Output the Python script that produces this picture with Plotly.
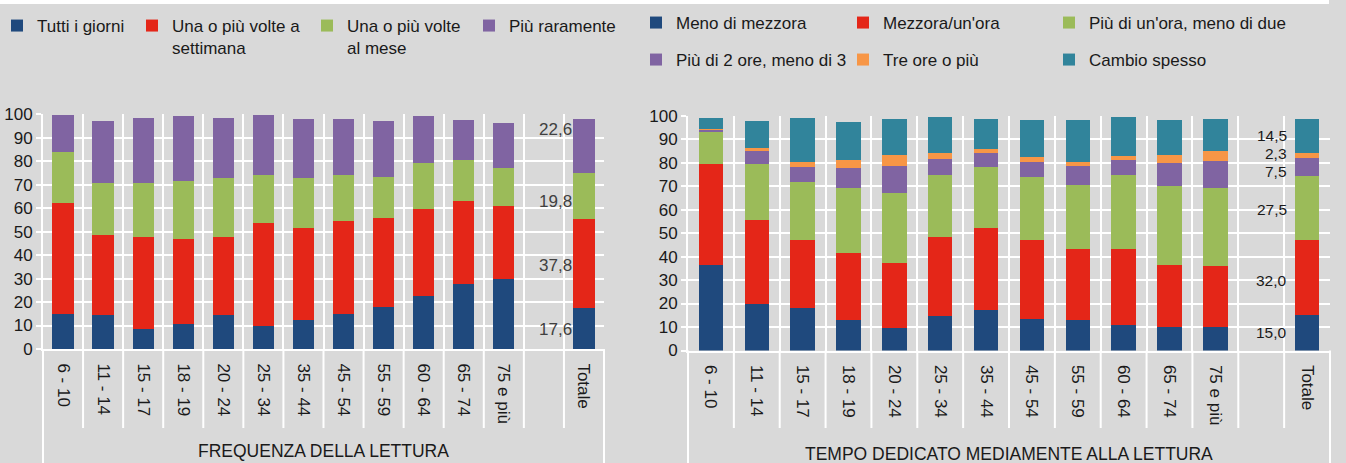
import plotly.graph_objects as go

# ---------------- data ----------------
categories = ["6 - 10", "11 - 14", "15 - 17", "18 - 19", "20 - 24", "25 - 34", "35 - 44",
              "45 - 54", "55 - 59", "60 - 64", "65 - 74", "75 e più", " ", "Totale"]

# Frequenza della lettura
tutti_i_giorni = [15.0, 14.6, 8.6, 10.7, 14.3, 10.0, 12.4, 15.0, 18.0, 22.7, 27.7, 29.7, None, 17.6]
settimana = [47.3, 34.0, 39.3, 36.2, 33.6, 43.7, 39.3, 39.6, 38.0, 36.9, 35.2, 31.3, None, 37.8]
al_mese = [21.8, 22.1, 22.8, 24.8, 24.8, 20.6, 21.3, 19.5, 17.4, 19.8, 17.5, 16.0, None, 19.8]
raramente = [15.5, 26.4, 27.7, 27.6, 25.6, 25.3, 24.9, 23.8, 23.7, 19.9, 17.2, 19.3, None, 22.6]

# Tempo dedicato mediamente alla lettura
meno_mezzora = [36.6, 19.6, 18.0, 12.9, 9.4, 14.6, 17.1, 13.5, 12.8, 10.9, 9.9, 9.8, None, 15.0]
mezzora_ora = [42.8, 36.1, 29.1, 28.8, 27.9, 33.8, 35.1, 33.6, 30.6, 32.5, 26.7, 26.1, None, 32.0]
ora_due = [13.9, 23.7, 24.7, 27.5, 29.8, 26.4, 26.0, 26.8, 27.2, 31.2, 33.3, 33.5, None, 27.5]
due_tre = [0.8, 5.4, 6.5, 8.4, 11.6, 6.9, 5.8, 6.5, 8.1, 6.5, 10.0, 11.3, None, 7.5]
tre_piu = [0.4, 1.3, 2.0, 3.5, 4.7, 2.3, 1.8, 1.9, 1.7, 1.6, 3.2, 4.4, None, 2.3]
cambio = [4.4, 11.5, 18.7, 16.3, 15.0, 15.4, 12.6, 15.9, 17.8, 16.9, 15.1, 13.5, None, 14.5]

left_names = ["Tutti i giorni", "Una o più volte a<br>settimana", "Una o più volte<br>al mese", "Più raramente"]
right_names = ["Meno di mezzora", "Mezzora/un'ora", "Più di un'ora, meno di due",
               "Più di 2 ore, meno di 3", "Tre ore o più", "Cambio spesso"]
y_ticks = [0, 10, 20, 30, 40, 50, 60, 70, 80, 90, 100]

# ---------------- style ----------------
W, H = 1346, 463
BG = "#D9D9D9"
FONT = "Liberation Sans, Arial, sans-serif"
TXT = "#1A1A1A"
C_BLUE, C_RED, C_GREEN, C_PURPLE, C_ORANGE, C_TEAL = (
    "#1F497D", "#E42618", "#9BBB59", "#8064A2", "#F79646", "#31849B")

def px_x(p):
    return p / W

def px_y(p):
    return (H - p) / H

# plot areas in pixels (left, right, top(100), bottom(0))
L_AREA = (43, 604, 114.3, 349.0)
R_AREA = (688, 1330, 115.7, 350.5)

LEG_DX = 19   # legend box left relative to reference marker left
LEG_DY = 17   # legend box top relative to reference text centre

fig = go.Figure()

left_series = [tutti_i_giorni, settimana, al_mese, raramente]
left_colors = [C_BLUE, C_RED, C_GREEN, C_PURPLE]
left_leg_pos = [(16, 25), (151, 25), (326, 25), (488, 25)]

right_series = [meno_mezzora, mezzora_ora, ora_due, due_tre, tre_piu, cambio]
right_colors = [C_BLUE, C_RED, C_GREEN, C_PURPLE, C_ORANGE, C_TEAL]
right_leg_pos = [(655, 22), (862, 22), (1068, 22), (655, 59), (862, 59), (1068, 59)]

legend_layouts = {}
k = 0
for group, names, colors, positions, xa, ya in (
        (left_series, left_names, left_colors, left_leg_pos, "x", "y"),
        (right_series, right_names, right_colors, right_leg_pos, "x2", "y2")):
    for vals, name, col, pos in zip(group, names, colors, positions):
        k += 1
        lname = "legend" if k == 1 else f"legend{k}"
        fig.add_trace(go.Bar(x=categories, y=vals, name=name,
                             marker=dict(color=col, line=dict(width=0)),
                             xaxis=xa, yaxis=ya, legend=lname))
        legend_layouts[lname] = dict(x=px_x(pos[0] - LEG_DX), y=px_y(pos[1] - LEG_DY),
                                     xref="paper", yref="paper",
                                     xanchor="left", yanchor="top",
                                     bgcolor="rgba(0,0,0,0)", valign="top", itemwidth=30,
                                     font=dict(family=FONT, size=17, color=TXT))

def xaxis_cfg(area, anchor):
    return dict(domain=[px_x(area[0]), px_x(area[1])], type="category", categoryorder="array",
                categoryarray=categories, range=[-0.5, len(categories) - 0.5], anchor=anchor,
                tickson="boundaries", showgrid=True, gridcolor="white", gridwidth=1.5,
                ticks="outside", ticklen=5, tickcolor="rgba(0,0,0,0)", tickangle=90,
                ticklabelstandoff=9,
                showline=True, linecolor="white", linewidth=2, automargin=False,
                tickfont=dict(family=FONT, size=17, color=TXT), fixedrange=True)

def yaxis_cfg(area, anchor):
    return dict(domain=[px_y(area[3]), px_y(area[2])], range=[0, 100], tickvals=y_ticks,
                showgrid=True, gridcolor="white", gridwidth=1.5, zeroline=False,
                ticks="outside", ticklen=5, tickcolor="white", tickwidth=1.5,
                showline=True, linecolor="white", linewidth=2, anchor=anchor, automargin=False,
                tickfont=dict(family=FONT, size=17, color=TXT), fixedrange=True)

shapes = [dict(type="rect", xref="paper", yref="paper", x0=0, x1=px_x(1329), y0=px_y(4), y1=1,
               fillcolor="white", line=dict(width=0), layer="above")]

for xa, area in (("x", L_AREA), ("x2", R_AREA)):
    ybot = px_y(area[3])
    for i in range(len(categories) - 1):
        shapes.append(dict(type="line", xref=xa, yref="paper", x0=i + 0.5, x1=i + 0.5,
                           y0=ybot, y1=px_y(428), line=dict(color="white", width=2)))
    for xd in (0, 1):
        shapes.append(dict(type="line", xref=f"{xa} domain", yref="paper", x0=xd, x1=xd,
                           y0=ybot, y1=0, line=dict(color="white", width=2)))

annotations = [
    dict(text="FREQUENZA DELLA LETTURA", xref="x domain", yref="paper", x=0.5, y=px_y(451),
         showarrow=False, font=dict(family=FONT, size=17.5, color=TXT), yanchor="middle"),
    dict(text="TEMPO DEDICATO MEDIAMENTE ALLA LETTURA", xref="x2 domain", yref="paper", x=0.5,
         y=px_y(454), showarrow=False, font=dict(family=FONT, size=17.5, color=TXT), yanchor="middle"),
]

def total_labels(series, xref, yref, offsets, xshift, color, size):
    base = 0.0
    out = []
    for s, off in zip(series, offsets):
        v = s[-1]
        mid = base + v / 2 + off
        base += v
        out.append(dict(text=f"{v:.1f}".replace(".", ","), xref=xref, yref=yref, x="Totale", y=mid,
                        xanchor="right", yanchor="middle", xshift=xshift, showarrow=False,
                        borderpad=0, font=dict(family=FONT, size=size, color=color)))
    return out

annotations += total_labels(left_series, "x", "y", [-0.7, -1.0, -2.6, 7.2], -11, "#404040", 17)
annotations += total_labels(right_series, "x2", "y2", [0.0, -1.0, -0.8, -2.2, 0.9, -0.1], -19, TXT, 15.5)

fig.update_layout(
    width=W, height=H, margin=dict(l=0, r=0, t=0, b=0, autoexpand=False),
    paper_bgcolor=BG, plot_bgcolor=BG, barmode="stack", bargap=0.47,
    xaxis=xaxis_cfg(L_AREA, "y"), yaxis=yaxis_cfg(L_AREA, "x"),
    xaxis2=xaxis_cfg(R_AREA, "y2"), yaxis2=yaxis_cfg(R_AREA, "x2"),
    shapes=shapes, annotations=annotations, showlegend=True,
    font=dict(family=FONT, color=TXT),
    **legend_layouts,
)
fig.update_traces(hoverinfo="skip")

fig.write_html("out.html", config={"displayModeBar": False},
               post_script="document.body.style.margin='0';document.body.style.overflow='hidden';")
